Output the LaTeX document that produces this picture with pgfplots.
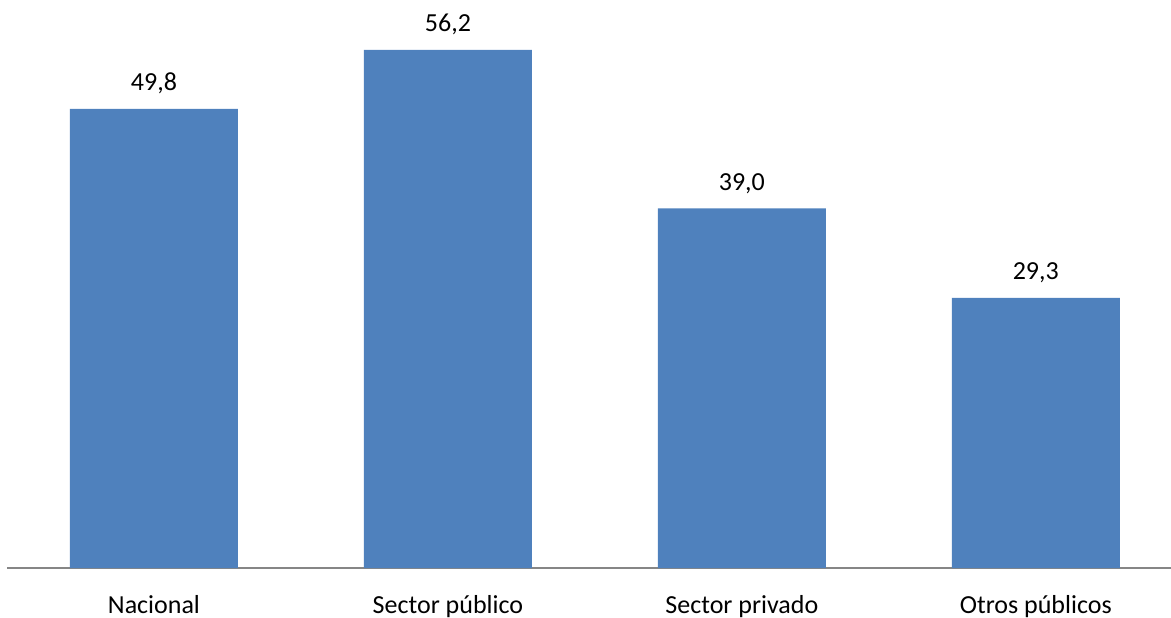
\documentclass[border=0pt]{standalone}
\usepackage{fontspec}
\setmainfont{Carlito}
\usepackage{pgfplots}
\pgfplotsset{compat=1.18}
\definecolor{barblue}{RGB}{79,129,189}
\definecolor{axgray}{RGB}{134,134,134}
\begin{document}
\begin{tikzpicture}
\begin{axis}[
  at={(0,0)}, anchor=south west,
  scale only axis,
  width=582pt, height=284pt,
  xmin=-0.5, xmax=3.46,
  ymin=0, ymax=61.6,
  axis x line*=bottom,
  axis y line=none,
  x axis line style={draw=axgray, line width=1pt, -},
  xtick={0,1,2,3},
  xticklabels={Nacional, Sector público, Sector privado, Otros públicos},
  major tick length=0pt,
  xticklabel style={font=\fontsize{13}{15}\selectfont, anchor=base, yshift=-22.5pt},
  ybar, bar width=84pt,
  nodes near coords,
  every node near coord/.append style={font=\fontsize{13}{15}\selectfont, anchor=base, yshift=9pt, text=black},
  /pgf/number format/.cd, use comma, fixed, fixed zerofill, precision=1, assume math mode=true,
]
\addplot[fill=barblue, draw=none] coordinates {(0,49.8) (1,56.2) (2,39.0) (3,29.3)};
\end{axis}
\pgfresetboundingbox
\path[use as bounding box] (-3.5pt,-24.5pt) rectangle (582pt,284pt);
\end{tikzpicture}
\end{document}
